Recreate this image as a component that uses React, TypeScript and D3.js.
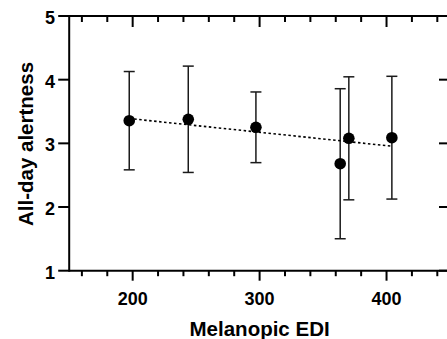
import React from "react";
import * as d3 from "d3";

const melanopicEDI = [197.3, 243.8, 297.1, 363.5, 370.3, 404.2];
const alertnessMean = [3.356, 3.378, 3.252, 2.68, 3.079, 3.089];
const alertnessSD = [0.772, 0.835, 0.555, 1.178, 0.966, 0.964];
const fitX = [197.3, 404.2];
const fitY = [3.39, 2.955];
const xMajorTicks = [200, 300, 400];
const xMinorTicks = [160, 180, 220, 240, 260, 280, 320, 340, 360, 380, 420, 440];
const yTicks = [1, 2, 3, 4, 5];
const xTitle = "Melanopic EDI";
const yTitle = "All-day alertness";

const W = 447;
const H = 339;
const left = 69.2;
const right = 450;
const top = 16;
const bottom = 270.7;
const font = "'Liberation Sans', Arial, sans-serif";

export default function App() {
  const x = d3.scaleLinear().domain([150, 450]).range([left, right]);
  const y = d3.scaleLinear().domain([1, 5]).range([bottom, top]);
  const line = d3
    .line<number>()
    .x((_, i) => x(fitX[i]))
    .y((d) => y(d));
  const axisW = 2;
  return (
    <svg
      width={W}
      height={H}
      style={{ position: "fixed", left: 0, top: 0, display: "block", background: "#fff" }}
    >
      {/* error bars */}
      {melanopicEDI.map((xv, i) => {
        const cx = x(xv);
        const y1 = y(alertnessMean[i] + alertnessSD[i]);
        const y2 = y(alertnessMean[i] - alertnessSD[i]);
        return (
          <g key={"e" + i} stroke="#1a1a1a" strokeWidth={1.5}>
            <line x1={cx} x2={cx} y1={y1} y2={y2} />
            <line x1={cx - 5.5} x2={cx + 5.5} y1={y1} y2={y1} />
            <line x1={cx - 5.5} x2={cx + 5.5} y1={y2} y2={y2} />
          </g>
        );
      })}
      {/* fit line */}
      <path
        d={line(fitY) || ""}
        fill="none"
        stroke="#000"
        strokeWidth={1.6}
        strokeDasharray="2.5,2.5"
      />
      {/* points */}
      {melanopicEDI.map((xv, i) => (
        <circle key={"p" + i} cx={x(xv)} cy={y(alertnessMean[i])} r={5.8} fill="#000" />
      ))}
      {/* frame */}
      <g stroke="#000" strokeWidth={axisW} fill="none">
        <line x1={left} x2={right} y1={bottom} y2={bottom} />
        <line x1={left} x2={right} y1={top} y2={top} />
        <line x1={left} x2={left} y1={top - 1} y2={bottom + 1} />
        <line x1={right} x2={right} y1={top - 1} y2={bottom + 1} />
        {/* bottom ticks */}
        {xMajorTicks.map((t) => (
          <line key={"bM" + t} x1={x(t)} x2={x(t)} y1={bottom} y2={bottom + 10} />
        ))}
        {xMinorTicks.map((t) => (
          <line key={"bm" + t} x1={x(t)} x2={x(t)} y1={bottom} y2={bottom + 5.5} />
        ))}
        {/* top ticks (inward) */}
        {xMajorTicks.map((t) => (
          <line key={"tM" + t} x1={x(t)} x2={x(t)} y1={top} y2={top + 11} />
        ))}
        {xMinorTicks.map((t) => (
          <line key={"tm" + t} x1={x(t)} x2={x(t)} y1={top} y2={top + 6} />
        ))}
        {/* left ticks */}
        {yTicks.map((t) => (
          <line key={"l" + t} x1={left - 11} x2={left} y1={y(t)} y2={y(t)} />
        ))}
        {/* right ticks inward */}
        {yTicks.map((t) => (
          <line key={"r" + t} x1={right - 11} x2={right} y1={y(t)} y2={y(t)} />
        ))}
      </g>
      {/* tick labels */}
      <g fontFamily={font} fontWeight="bold" fontSize={18} fill="#000">
        {xMajorTicks.map((t) => (
          <text key={"xl" + t} x={x(t)} y={305} textAnchor="middle">
            {t}
          </text>
        ))}
        {yTicks.map((t) => (
          <text key={"yl" + t} x={55} y={y(t) + 8} textAnchor="end">
            {t}
          </text>
        ))}
      </g>
      <text
        x={(left + right) / 2}
        y={336}
        textAnchor="middle"
        fontFamily={font}
        fontWeight="bold"
        fontSize={20.5}
      >
        {xTitle}
      </text>
      <text
        transform={`translate(33,144) rotate(-90)`}
        textAnchor="middle"
        fontFamily={font}
        fontWeight="bold"
        fontSize={20.5}
      >
        {yTitle}
      </text>
    </svg>
  );
}
